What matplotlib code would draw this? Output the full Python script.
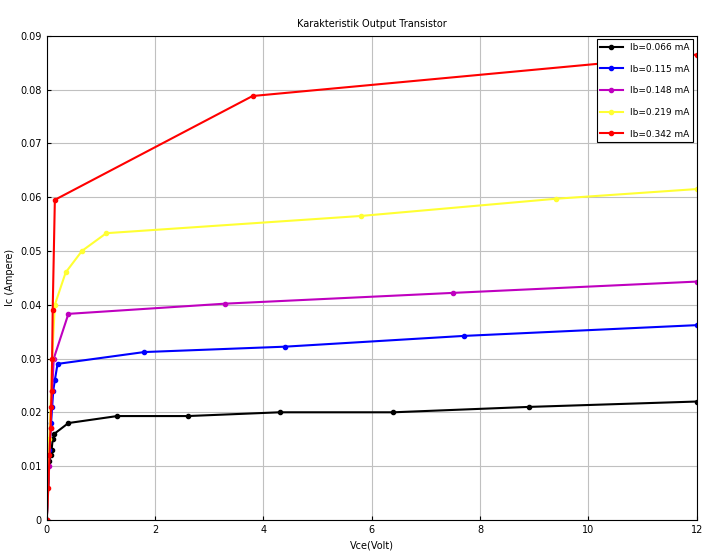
import matplotlib
matplotlib.use("Agg")
import matplotlib.pyplot as plt
from matplotlib.ticker import FuncFormatter

# Vce (Volt) and Ic (Ampere) per base current
vce_066 = [0, 0.05, 0.07, 0.09, 0.11, 0.14, 0.4, 1.3, 2.6, 4.3, 6.4, 8.9, 12]
ic_066 = [0, 0.011, 0.012, 0.013, 0.015, 0.016, 0.018, 0.0193, 0.0193, 0.020, 0.020, 0.021, 0.022]

vce_115 = [0, 0.05, 0.08, 0.10, 0.12, 0.15, 0.2, 1.8, 4.4, 7.7, 12]
ic_115 = [0, 0.013, 0.018, 0.021, 0.024, 0.026, 0.029, 0.0312, 0.0322, 0.0342, 0.0362]

vce_148 = [0, 0.04, 0.07, 0.10, 0.13, 0.4, 3.3, 7.5, 12]
ic_148 = [0, 0.010, 0.017, 0.024, 0.030, 0.0383, 0.0402, 0.0422, 0.0443]

vce_219 = [0, 0.05, 0.10, 0.15, 0.35, 0.65, 1.1, 5.8, 9.4, 12]
ic_219 = [0, 0.015, 0.030, 0.040, 0.046, 0.050, 0.0533, 0.0565, 0.0597, 0.0615]

vce_342 = [0, 0.03, 0.05, 0.07, 0.08, 0.09, 0.10, 0.11, 0.15, 3.8, 12]
ic_342 = [0, 0.006, 0.012, 0.017, 0.021, 0.024, 0.030, 0.039, 0.0595, 0.0788, 0.0865]

series = [
    (vce_066, ic_066, "k", "Ib=0.066 mA"),
    (vce_115, ic_115, "b", "Ib=0.115 mA"),
    (vce_148, ic_148, "m", "Ib=0.148 mA"),
    (vce_219, ic_219, "#ffff33", "Ib=0.219 mA"),
    (vce_342, ic_342, "r", "Ib=0.342 mA"),
]

fig = plt.figure(figsize=(7.08, 5.59), dpi=100)
ax = fig.add_axes([0.066, 0.070, 0.918, 0.866])

for x, y, c, lab in series:
    ax.plot(x, y, color=c, marker="o", markersize=3, linewidth=1.5, label=lab)

ax.set_xlim(0, 12)
ax.set_ylim(0, 0.09)
ax.set_xticks(range(0, 13, 2))
ax.set_yticks([i / 100 for i in range(10)])
ax.yaxis.set_major_formatter(FuncFormatter(lambda v, p: "0" if v == 0 else f"{v:.2f}"))
ax.tick_params(labelsize=7, direction="in", length=3)
ax.grid(True, color="#c0c0c0", linewidth=0.8)

ax.set_title("Karakteristik Output Transistor", fontsize=7)
ax.set_xlabel("Vce(Volt)", fontsize=7)
ax.set_ylabel("Ic (Ampere)", fontsize=7)

leg = ax.legend(loc="upper right", fontsize=6.5, fancybox=False, edgecolor="k",
                framealpha=1, handlelength=2.5, borderaxespad=0.4,
                labelspacing=1.4)
leg.get_frame().set_linewidth(0.8)

fig.savefig("out.png", dpi=100)
